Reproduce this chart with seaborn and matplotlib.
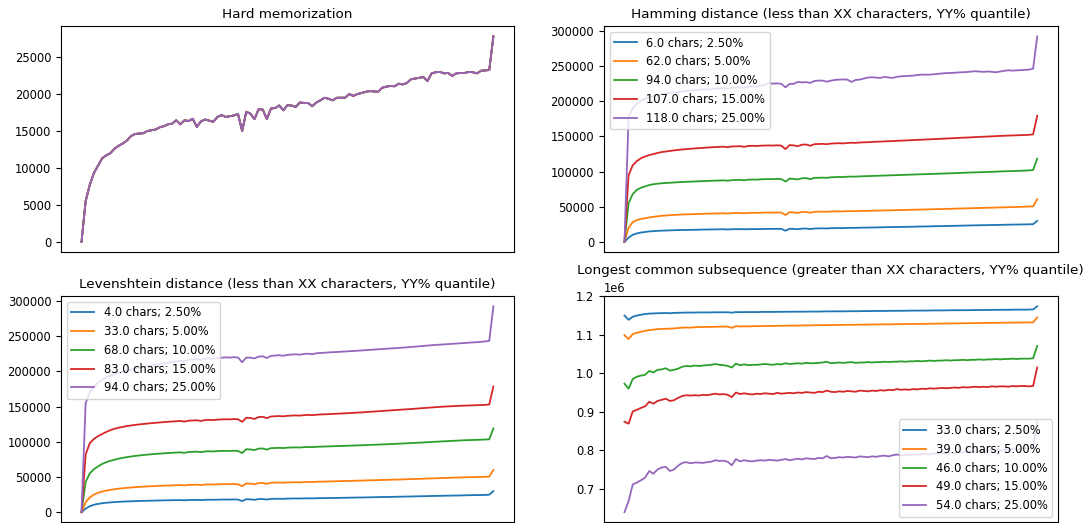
import numpy as np
import matplotlib
matplotlib.use("Agg")
import matplotlib.pyplot as plt
import seaborn as sns

# ---- data (101 checkpoints per curve) ----
hard_mem = [
    0, 5500, 7700, 9300, 10300, 11300, 11700, 12000, 12600, 13000,
    13300, 13700, 14300, 14600, 14650, 14700, 15000, 15100, 15200, 15500,
    15650, 15900, 16000, 16450, 15900, 16450, 16350, 16650, 15550, 16300,
    16550, 16400, 16250, 16900, 17150, 16900, 17000, 17100, 17300, 15000,
    17600, 17350, 16600, 17950, 17900, 16600, 18050, 18100, 18450, 17800,
    18500, 18450, 18250, 18850, 18800, 18800, 18350, 18850, 19150, 19500,
    19350, 19150, 19500, 19500, 19500, 20000, 19750, 20000, 20150, 20300,
    20400, 20350, 20300, 20850, 21000, 21100, 21050, 21400, 21300, 21500,
    22000, 22100, 22200, 22300, 21750, 22800, 22950, 23000, 22800, 22850,
    22450, 22800, 22850, 22850, 23000, 22950, 22800, 23150, 23200, 23250,
    27800]

ham_labels = ["6.0 chars; 2.50%", "62.0 chars; 5.00%", "94.0 chars; 10.00%",
              "107.0 chars; 15.00%", "118.0 chars; 25.00%"]
ham_1 = [
    0, 6000, 10000, 12000, 13200, 14000, 14800, 15200, 15600, 15900,
    16100, 16300, 16500, 16700, 16800, 16900, 17000, 17100, 17300, 17400,
    17500, 17600, 17700, 17800, 17900, 17600, 17900, 18000, 18100, 17900,
    18000, 18100, 18100, 18200, 18300, 18400, 18400, 18500, 18400, 15800,
    18600, 18400, 17900, 18800, 18900, 18200, 19000, 19100, 19200, 19000,
    19400, 19500, 19600, 19500, 19800, 19900, 19800, 20100, 20200, 20300,
    20400, 20500, 20600, 20800, 20900, 21000, 21100, 21200, 21300, 21400,
    21500, 21700, 21800, 21900, 22000, 22200, 22300, 22400, 22500, 22700,
    22800, 22900, 23100, 23200, 23300, 23500, 23600, 23700, 23800, 23900,
    24000, 24100, 24300, 24400, 24500, 24600, 24700, 24800, 24900, 25100,
    29800]
ham_2 = [
    0, 20000, 28000, 31000, 32500, 33500, 34800, 35600, 36300, 37000,
    37500, 37900, 38300, 38600, 38900, 39100, 39300, 39500, 39700, 39900,
    40100, 40200, 40400, 40500, 40700, 40300, 40800, 41000, 41100, 40600,
    41200, 41300, 41300, 41400, 41600, 41700, 41600, 41800, 41700, 38100,
    42200, 41900, 41100, 42400, 42500, 41400, 42700, 42900, 43000, 42800,
    43200, 43300, 43400, 43300, 43600, 43700, 43700, 43900, 44000, 44100,
    44300, 44400, 44500, 44700, 44800, 45000, 45100, 45200, 45400, 45500,
    45700, 45800, 46000, 46100, 46300, 46400, 46600, 46700, 46900, 47000,
    47200, 47400, 47500, 47700, 47800, 48000, 48200, 48300, 48500, 48600,
    48800, 49000, 49100, 49300, 49400, 49600, 49800, 50000, 50200, 50600,
    60500]
ham_3 = [
    0, 55000, 68000, 74000, 77000, 79000, 80800, 82000, 82800, 83400,
    83800, 84100, 84500, 84900, 85200, 85500, 85700, 85900, 86200, 86400,
    86700, 86900, 87100, 87300, 87500, 87000, 87800, 88000, 88200, 87600,
    88500, 88700, 88600, 89000, 89200, 89300, 89400, 89600, 89400, 85800,
    90000, 89600, 88900, 90500, 90700, 89300, 91000, 91200, 91400, 91100,
    91900, 92100, 92400, 92200, 92700, 92900, 92800, 93200, 93400, 93600,
    93800, 94000, 94200, 94400, 94600, 94800, 95000, 95200, 95400, 95600,
    95800, 96000, 96200, 96400, 96600, 96800, 97000, 97200, 97400, 97600,
    97800, 98000, 98300, 98500, 98700, 98900, 99100, 99300, 99500, 99700,
    99900, 100200, 100400, 100600, 100800, 101000, 101200, 101400, 101700, 102200,
    118500]
ham_4 = [
    0, 95000, 109000, 115000, 119000, 121500, 123500, 125000, 126500, 127800,
    128600, 129400, 130200, 130900, 131500, 132000, 132500, 133000, 133400, 133800,
    134200, 134600, 134900, 135200, 135500, 134700, 135800, 136000, 136200, 135300,
    136500, 136700, 136500, 136900, 137100, 137200, 137100, 137400, 137000, 132000,
    137800, 137300, 136200, 138300, 138600, 136800, 139000, 139300, 139500, 139000,
    139900, 140200, 140400, 140100, 140800, 141100, 140900, 141400, 141700, 141900,
    142200, 142500, 142700, 143000, 143300, 143500, 143800, 144100, 144300, 144600,
    144900, 145200, 145400, 145700, 146000, 146300, 146500, 146800, 147100, 147400,
    147700, 148000, 148300, 148500, 148800, 149100, 149400, 149700, 149900, 150200,
    150500, 150800, 151000, 151300, 151500, 151700, 151900, 152100, 152400, 153000,
    179500]
ham_5 = [
    0, 178000, 190000, 197000, 201000, 204000, 206000, 207500, 209000, 210000,
    211000, 212000, 212800, 213500, 214200, 214800, 215400, 216000, 216500, 217000,
    217000, 217500, 218000, 218500, 218800, 218200, 219200, 219600, 219900, 219300,
    220800, 221300, 221200, 222000, 223800, 226000, 225200, 225600, 225000, 220000,
    224800, 225000, 227700, 227000, 227500, 226300, 229000, 229600, 229600, 228000,
    229500, 230500, 231000, 231200, 231000, 227700, 230500, 231000, 232500, 234000,
    234300, 233800, 233400, 234900, 234000, 233400, 235000, 235700, 236000, 236300,
    236700, 237500, 238100, 238000, 238100, 238600, 239200, 239800, 240300, 240500,
    240800, 241300, 241500, 241800, 242500, 242900, 242500, 242000, 242600, 242000,
    241500, 242500, 243500, 244300, 243800, 244200, 244500, 244800, 245200, 246500,
    292500]

lev_labels = ["4.0 chars; 2.50%", "33.0 chars; 5.00%", "68.0 chars; 10.00%",
              "83.0 chars; 15.00%", "94.0 chars; 25.00%"]
lev_1 = [
    0, 5000, 8500, 10500, 11800, 12700, 13400, 13900, 14300, 14700,
    15000, 15300, 15500, 15700, 15900, 16100, 16200, 16400, 16500, 16700,
    16800, 16900, 17000, 17100, 17200, 16900, 17300, 17400, 17500, 17200,
    17600, 17700, 17600, 17800, 17900, 18000, 17900, 18100, 17900, 15800,
    18400, 18200, 17600, 18600, 18700, 17900, 18900, 19000, 19100, 18900,
    19300, 19400, 19500, 19400, 19600, 19700, 19600, 19800, 19900, 20000,
    20100, 20200, 20300, 20400, 20500, 20600, 20700, 20800, 20900, 21000,
    21100, 21300, 21400, 21500, 21600, 21700, 21800, 22000, 22100, 22200,
    22300, 22500, 22600, 22700, 22900, 23000, 23100, 23200, 23400, 23500,
    23600, 23700, 23800, 24000, 24100, 24200, 24300, 24400, 24500, 24800,
    30000]
lev_2 = [
    0, 14000, 21000, 25000, 27500, 29300, 30600, 31700, 32600, 33400,
    34000, 34600, 35100, 35500, 35900, 36300, 36600, 36900, 37200, 37500,
    37700, 37900, 38100, 38300, 38500, 38000, 38800, 38900, 39100, 38600,
    39300, 39400, 39300, 39600, 39800, 39900, 39800, 40000, 39700, 37000,
    40800, 40500, 39700, 41300, 41500, 40200, 41800, 42000, 42100, 41900,
    42300, 42400, 42600, 42400, 42800, 43000, 42800, 43200, 43400, 43500,
    43700, 43800, 44000, 44200, 44300, 44500, 44600, 44800, 44900, 45100,
    45300, 45400, 45600, 45800, 45900, 46100, 46300, 46400, 46600, 46800,
    47000, 47200, 47400, 47600, 47800, 48000, 48200, 48400, 48600, 48800,
    49000, 49200, 49400, 49500, 49700, 49800, 50000, 50100, 50300, 50600,
    60000]
lev_3 = [
    0, 43000, 55000, 61000, 65000, 68500, 71000, 73000, 74500, 76000,
    77200, 78200, 79100, 79900, 80600, 81200, 81800, 82300, 82800, 83200,
    83600, 84000, 84400, 84700, 85000, 84300, 85500, 85800, 86000, 85300,
    86300, 86500, 86300, 86800, 87000, 87100, 87000, 87300, 87000, 84000,
    89500, 89100, 88300, 90300, 90500, 88900, 91000, 91200, 91400, 91100,
    91700, 91900, 92100, 91900, 92400, 92600, 92400, 92900, 93100, 93300,
    93500, 93700, 93900, 94100, 94300, 94500, 94700, 94900, 95100, 95300,
    95600, 95800, 96000, 96300, 96500, 96800, 97000, 97300, 97600, 97900,
    98200, 98500, 98800, 99100, 99400, 99800, 100100, 100400, 100700, 101000,
    101300, 101600, 101900, 102200, 102400, 102600, 102800, 103000, 103200, 103600,
    119000]
lev_4 = [
    0, 82000, 98000, 104000, 108000, 111000, 114000, 116500, 118500, 120000,
    121200, 122300, 123200, 124000, 124700, 125300, 125900, 126500, 127000, 127500,
    128000, 128400, 128800, 129200, 129600, 128800, 130000, 130300, 130600, 129600,
    130900, 131100, 130900, 131500, 131800, 132000, 131900, 132300, 132000, 128400,
    134200, 133800, 132500, 135200, 135500, 133600, 136000, 136300, 136600, 136200,
    136900, 137200, 137500, 137200, 137900, 138200, 137800, 138500, 138800, 139100,
    139300, 139600, 139900, 140200, 140500, 140800, 141100, 141500, 141800, 142200,
    142600, 143000, 143400, 143800, 144200, 144600, 145000, 145400, 145800, 146200,
    146600, 147000, 147500, 147900, 148300, 148800, 149200, 149600, 150000, 150300,
    150600, 150900, 151200, 151400, 151600, 151800, 152000, 152200, 152500, 153000,
    178500]
lev_5 = [
    0, 155000, 170000, 178000, 184000, 188000, 191500, 194000, 196000, 198000,
    199500, 201000, 202500, 204000, 205500, 206500, 207500, 208500, 209500, 210500,
    211500, 212500, 213500, 214000, 215000, 214200, 216200, 216800, 217300, 216500,
    218000, 218500, 218300, 219000, 219500, 220000, 219600, 220200, 219700, 213000,
    219800, 219500, 218500, 221000, 221500, 219000, 222000, 222600, 223000, 222200,
    223500, 224000, 224300, 223800, 224800, 225200, 224500, 225800, 226200, 226500,
    227000, 227300, 227600, 228000, 228300, 228700, 229000, 229400, 229800, 230200,
    230600, 231000, 231400, 231800, 232200, 232600, 233000, 233400, 233800, 234200,
    234700, 235200, 235700, 236200, 236700, 237200, 237600, 238000, 238400, 238800,
    239200, 239600, 240000, 240400, 240800, 241200, 241600, 242000, 242600, 243500,
    292500]

lcs_labels = ["33.0 chars; 2.50%", "39.0 chars; 5.00%", "46.0 chars; 10.00%",
              "49.0 chars; 15.00%", "54.0 chars; 25.00%"]
lcs_1 = [
    1150000, 1139000, 1147000, 1150000, 1152000, 1154000, 1155000, 1155500, 1156000, 1156300,
    1156600, 1156000, 1157000, 1157200, 1157400, 1157800, 1157600, 1157800, 1158200, 1158000,
    1158100, 1158200, 1158500, 1158400, 1158500, 1158500, 1157500, 1159000, 1158800, 1159000,
    1159100, 1159200, 1159000, 1159300, 1159400, 1159500, 1159300, 1159600, 1159700, 1159800,
    1159900, 1160000, 1160100, 1160000, 1160200, 1160300, 1160400, 1160300, 1160600, 1160900,
    1160800, 1160900, 1161000, 1160900, 1161200, 1161300, 1161200, 1161500, 1161600, 1161500,
    1161800, 1161900, 1162000, 1161900, 1162200, 1162300, 1162400, 1162300, 1162600, 1162700,
    1162800, 1162900, 1163000, 1162900, 1163200, 1163300, 1163400, 1163300, 1163600, 1163700,
    1163800, 1163900, 1164000, 1163900, 1164200, 1164300, 1164400, 1164300, 1164600, 1164700,
    1164800, 1164900, 1165000, 1164900, 1165200, 1165300, 1165400, 1165300, 1165600, 1165800,
    1174000]
lcs_2 = [
    1099000, 1089000, 1102000, 1105000, 1108000, 1110500, 1112000, 1113500, 1114500, 1115200,
    1115500, 1116000, 1116500, 1117500, 1118500, 1119000, 1118500, 1119500, 1120000, 1120200,
    1120400, 1120600, 1120800, 1121000, 1121200, 1121300, 1118000, 1122500, 1121500, 1122000,
    1121800, 1122300, 1122600, 1122500, 1122900, 1123100, 1123000, 1123400, 1123200, 1123600,
    1123800, 1124000, 1123700, 1124300, 1124500, 1124400, 1124800, 1125000, 1124800, 1125200,
    1125400, 1125600, 1125500, 1125800, 1126000, 1125900, 1126200, 1126400, 1126300, 1126600,
    1126800, 1126700, 1127000, 1127200, 1127100, 1127400, 1127600, 1127500, 1127800, 1128000,
    1128100, 1128300, 1128400, 1128600, 1128700, 1128900, 1129000, 1129200, 1129300, 1129500,
    1129600, 1129800, 1129900, 1130100, 1130200, 1130400, 1130500, 1130700, 1130800, 1131000,
    1131100, 1131300, 1131400, 1131500, 1131600, 1131700, 1131800, 1131900, 1132000, 1132300,
    1145000]
lcs_3 = [
    973000, 960000, 985000, 991000, 994000, 996000, 1006000, 1002000, 1009000, 1010000,
    1013000, 1007000, 1009000, 1012000, 1017000, 1019000, 1018000, 1020000, 1019000, 1020000,
    1021000, 1022000, 1024000, 1022000, 1021000, 1019000, 1015000, 1025000, 1021000, 1023000,
    1021000, 1022000, 1022000, 1023000, 1024000, 1023000, 1022000, 1024000, 1023000, 1026000,
    1024000, 1025000, 1026000, 1025000, 1027000, 1026000, 1026000, 1027000, 1028000, 1030000,
    1026000, 1027000, 1028000, 1027000, 1028000, 1029000, 1027000, 1028000, 1028000, 1029000,
    1028000, 1029000, 1029000, 1030000, 1029000, 1030000, 1030000, 1031000, 1030000, 1031000,
    1031000, 1032000, 1031000, 1032000, 1033000, 1032000, 1033000, 1033000, 1034000, 1033000,
    1034000, 1034000, 1035000, 1034000, 1035000, 1035000, 1036000, 1035000, 1036000, 1036000,
    1037000, 1036000, 1037000, 1037000, 1038000, 1037000, 1038000, 1038000, 1038000, 1039000,
    1071000]
lcs_4 = [
    874000, 869000, 901000, 905000, 910000, 914000, 926000, 921000, 928000, 931000,
    934000, 928000, 930000, 936000, 941000, 943000, 942000, 943000, 942000, 944000,
    943000, 945000, 947000, 945000, 946000, 944000, 938000, 950000, 946000, 948000,
    946000, 945000, 947000, 946000, 948000, 947000, 946000, 949000, 947000, 948000,
    949000, 948000, 950000, 949000, 951000, 950000, 949000, 952000, 951000, 955000,
    952000, 951000, 953000, 952000, 954000, 953000, 952000, 955000, 954000, 953000,
    955000, 954000, 956000, 955000, 957000, 956000, 959000, 957000, 958000, 957000,
    959000, 958000, 960000, 959000, 961000, 960000, 961000, 962000, 961000, 962000,
    963000, 962000, 964000, 963000, 964000, 965000, 964000, 965000, 964000, 966000,
    965000, 966000, 966000, 965000, 967000, 966000, 967000, 967000, 966000, 967000,
    1015000]
lcs_5 = [
    639000, 668000, 711000, 716000, 722000, 729000, 746000, 739000, 750000, 755000,
    757000, 746000, 750000, 760000, 767000, 769000, 766000, 768000, 768000, 767000,
    769000, 770000, 774000, 772000, 773000, 770000, 761000, 777000, 771000, 774000,
    772000, 771000, 773000, 774000, 773000, 775000, 774000, 773000, 775000, 777000,
    774000, 776000, 778000, 776000, 779000, 778000, 777000, 780000, 779000, 785000,
    779000, 780000, 782000, 781000, 783000, 782000, 781000, 784000, 783000, 782000,
    784000, 783000, 785000, 786000, 784000, 787000, 789000, 786000, 788000, 787000,
    789000, 788000, 790000, 791000, 789000, 792000, 791000, 793000, 792000, 794000,
    793000, 795000, 794000, 796000, 797000, 796000, 798000, 797000, 799000, 800000,
    799000, 801000, 800000, 802000, 803000, 802000, 804000, 805000, 804000, 807000,
    876000]

colors = sns.color_palette("tab10", 5)


def draw_panel(ax, series, labels, title, legend_loc=None):
    for vals, lab, col in zip(series, labels, colors):
        steps = np.arange(len(vals))
        sns.lineplot(x=steps, y=vals, ax=ax, color=col, label=lab, linewidth=1.3)
    ax.set_title(title)
    ax.set_xticks([])
    ax.set_xlabel("")
    ax.set_ylabel("")
    if legend_loc is None:
        ax.get_legend().remove()
    else:
        ax.legend(loc=legend_loc, labelspacing=0.5)


plt.rcParams.update({
    "font.size": 8.3,
    "axes.titlesize": 9.7,
    "legend.fontsize": 8.3,
    "xtick.labelsize": 8.3,
    "ytick.labelsize": 8.3,
})

fig, axes = plt.subplots(2, 2, figsize=(10.88, 5.23), dpi=100)

draw_panel(axes[0, 0], [hard_mem] * 5, ham_labels, "Hard memorization")
draw_panel(axes[0, 1], [ham_1, ham_2, ham_3, ham_4, ham_5], ham_labels,
           "Hamming distance (less than XX characters, YY% quantile)", "upper left")
draw_panel(axes[1, 0], [lev_1, lev_2, lev_3, lev_4, lev_5], lev_labels,
           "Levenshtein distance (less than XX characters, YY% quantile)", "upper left")
draw_panel(axes[1, 1], [lcs_1, lcs_2, lcs_3, lcs_4, lcs_5], lcs_labels,
           "Longest common subsequence (greater than XX characters, YY% quantile)", "lower right")

axes[0, 0].set_position([0.056, 0.518, 0.4164, 0.432])
axes[0, 1].set_position([0.555, 0.518, 0.4173, 0.432])
axes[1, 0].set_position([0.056, 0.001, 0.4164, 0.433])
axes[1, 1].set_position([0.555, 0.001, 0.4173, 0.433])

fig.savefig("out.png", dpi=100)
